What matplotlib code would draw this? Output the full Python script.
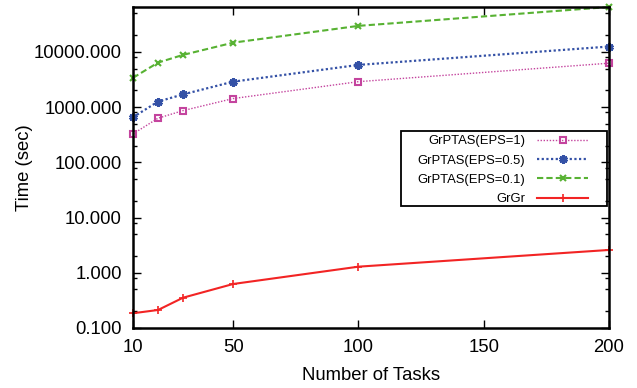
"""Run time of GrPTAS (several EPS) and GrGr versus number of tasks."""
import matplotlib
matplotlib.use('Agg')
import matplotlib.pyplot as plt
from matplotlib.patches import Rectangle
from matplotlib.ticker import FixedLocator, LogLocator, FuncFormatter, NullFormatter

tasks = [10, 20, 30, 50, 100, 200]
eps_1 = [327, 630, 865, 1430, 2890, 6240]
eps_05 = [656, 1260, 1700, 2890, 5810, 12500]
eps_01 = [3390, 6400, 8830, 14700, 29600, 65000]
grgr = [0.185, 0.212, 0.354, 0.627, 1.29, 2.59]

x_ticks = [10, 50, 100, 150, 200]

plt.rcParams['font.family'] = ['Liberation Sans', 'DejaVu Sans']

fig = plt.figure(figsize=(6.37, 3.88), dpi=100)
ax = fig.add_axes([133 / 637, 1 - 328 / 388, (609 - 133) / 637, (328 - 7) / 388])

ax.plot(tasks, eps_1, color='#c4449e', lw=1.0, ls=(0, (1, 1.2)),
        marker='s', ms=5, mfc='none', mec='#c4449e', mew=1.5,
        label='GrPTAS(EPS=1)', clip_on=False)
ax.plot(tasks, eps_05, color='#3451a6', lw=1.6, ls=(0, (1, 1.1)),
        marker=(6, 2, 0), ms=6, mew=2.2, mec='#3451a6',
        label='GrPTAS(EPS=0.5)', clip_on=False)
ax.plot(tasks, eps_01, color='#58b233', lw=1.5, ls=(0, (3, 1.5)),
        marker='x', ms=5, mew=1.5,
        label='GrPTAS(EPS=0.1)', clip_on=False)
ax.plot(tasks, grgr, color='#f22424', lw=1.5, ls='-',
        marker='+', ms=6, mew=1.2,
        label='GrGr', clip_on=False)

ax.set_yscale('log')
ax.set_xlim(10, 200)
ax.set_ylim(0.1, 65000)

ax.xaxis.set_major_locator(FixedLocator(x_ticks))
ax.xaxis.set_minor_locator(FixedLocator([]))
ax.yaxis.set_major_locator(LogLocator(base=10, numticks=12))
ax.yaxis.set_minor_locator(LogLocator(base=10, subs=[2, 5, 8], numticks=12))
ax.yaxis.set_major_formatter(FuncFormatter(lambda v, p: f'{v:.3f}'))
ax.yaxis.set_minor_formatter(NullFormatter())

ax.tick_params(which='both', direction='in', top=True, right=True,
               labelsize=13.3, width=1.0, color='black')
ax.tick_params(which='major', length=6, pad=8)
ax.tick_params(which='minor', length=3)
for spine in ax.spines.values():
    spine.set_linewidth(1.8)

ax.set_xlabel('Number of Tasks', fontsize=13.3)
ax.set_ylabel('Time (sec)', fontsize=13.3)
ax.xaxis.set_label_coords(0.5, -0.12)
ax.yaxis.set_label_coords(-0.21, 0.5)

leg = ax.legend(loc='upper right', bbox_to_anchor=(588 / 637, 1 - 135 / 388),
                bbox_transform=fig.transFigure, frameon=False, markerfirst=False,
                fontsize=9.4, handlelength=3.9, handletextpad=0.9,
                labelspacing=0.56, borderpad=0, borderaxespad=0)

fig.patches.append(Rectangle((401 / 637, 1 - 206 / 388), 206 / 637, 75 / 388,
                             transform=fig.transFigure, fill=False,
                             edgecolor='black', lw=1.3))

fig.savefig('out.png', dpi=100)
